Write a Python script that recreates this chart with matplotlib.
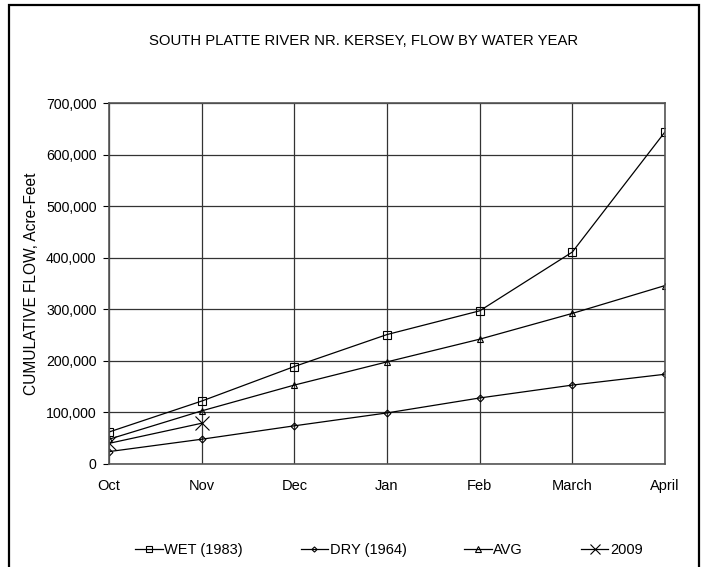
import matplotlib.pyplot as plt
from matplotlib.patches import Rectangle
from matplotlib.ticker import FuncFormatter

months = ['Oct', 'Nov', 'Dec', 'Jan', 'Feb', 'March', 'April']
wet_1983 = [62000, 122000, 189000, 251000, 297000, 411000, 644000]
dry_1964 = [24000, 48000, 74000, 99000, 128000, 153000, 174000]
avg = [48000, 103000, 153000, 198000, 242000, 292000, 346000]
y2009 = [40000, 79000]

plt.rcParams['font.family'] = ['Liberation Sans', 'DejaVu Sans']

fig = plt.figure(figsize=(7.02, 5.67), dpi=100)
ax = fig.add_axes([0.1553, 0.1817, 0.792, 0.6366])

# outer chart frame
fig.patches.append(Rectangle((9 / 702, -0.02), 690 / 702, 1.011, transform=fig.transFigure,
                             fill=False, edgecolor='black', linewidth=1.6))

x = list(range(len(months)))
ax.plot(x, wet_1983, color='black', lw=0.9, marker='s', ms=6, mfc='none', mew=0.8, label='WET (1983)')
ax.plot(x, dry_1964, color='black', lw=0.9, marker='D', ms=3.5, mfc='none', mew=0.8, label='DRY (1964)')
ax.plot(x, avg, color='black', lw=0.9, marker='^', ms=5, mfc='none', mew=0.8, label='AVG')
ax.plot(x[:len(y2009)], y2009, color='black', lw=0.9, marker='x', ms=10, mew=0.8, label='2009')

ax.set_xlim(0, len(months) - 1)
ax.set_ylim(0, 700000)
ax.set_xticks(x)
ax.set_xticklabels(months)
ax.set_yticks(range(0, 700001, 100000))
ax.yaxis.set_major_formatter(FuncFormatter(lambda v, p: f'{int(v):,}'))
ax.tick_params(axis='x', length=0, pad=11, labelsize=10.5)
ax.tick_params(axis='y', length=4, width=0.8, pad=5, labelsize=10.2)
ax.grid(True, color='#333333', linewidth=0.9)
ax.set_axisbelow(True)
for s in ax.spines.values():
    s.set_color('#555555')
    s.set_linewidth(1.2)

ax.set_ylabel('CUMULATIVE FLOW, Acre-Feet', fontsize=11.2, labelpad=5)
fig.text(0.518, 0.928, 'SOUTH PLATTE RIVER NR. KERSEY, FLOW BY WATER YEAR', ha='center', va='center',
         fontsize=10.7)

fig.legend(loc='center', bbox_to_anchor=(0.554, 0.03), ncol=4, frameon=False, fontsize=10.5,
           handlelength=1.9, columnspacing=3.95, handletextpad=0.1, markerscale=0.75)

fig.savefig('out.png', dpi=100)
